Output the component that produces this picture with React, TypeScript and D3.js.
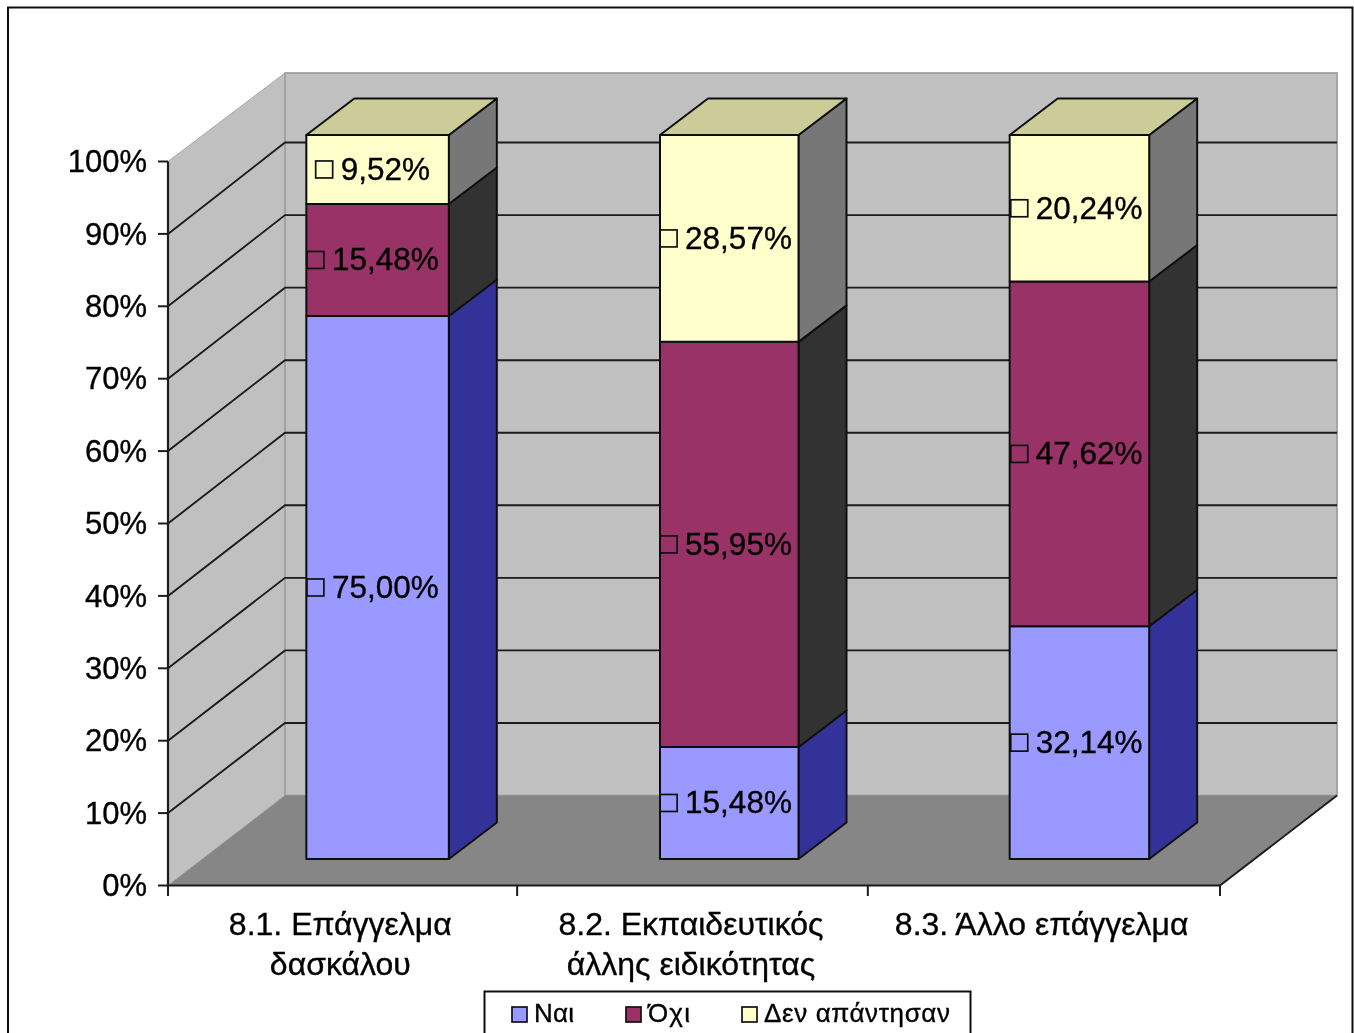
import React from "react";
import * as d3 from "d3";

const categories = [["8.1. Επάγγελμα", "δασκάλου"], ["8.2. Εκπαιδευτικός", "άλλης ειδικότητας"], ["8.3. Άλλο επάγγελμα"]];
const seriesNames = ["Ναι", "Όχι", "Δεν απάντησαν"];
const yes = [75.0, 15.48, 32.14];
const no = [15.48, 55.95, 47.62];
const noAnswer = [9.52, 28.57, 20.24];
const yTicks = [0, 10, 20, 30, 40, 50, 60, 70, 80, 90, 100];
const frontColors = ["#9999FF", "#993366", "#FFFFCC"];
const sideColors = ["#333399", "#333333", "#777777"];
const topColor = "#CCCC99";

const FONT = "'Liberation Sans', Arial, sans-serif";
const fmt = (v: number) => v.toFixed(2).replace(".", ",") + "%";
const measure = (s: string, size: number) => {
  const c = document.createElement("canvas").getContext("2d")!;
  c.font = `${size}px 'Liberation Sans'`;
  return c.measureText(s).width;
};

export default function App() {
  const y = d3.scaleLinear().domain([0, 100]).range([885.5, 161.5]);
  const backY = d3.scaleLinear().domain([0, 100]).range([795.5, 70]);
  const x = d3.scaleBand<number>().domain([0, 1, 2]).range([168, 1220]);
  const dx = 117;
  const wallTop = 73;
  const barDx = 35, barDy = -26.5;
  const sideDx = 48, sideDy = -36.5;
  const barW = 140;
  const leftNudge = [-1.5, 1.5, 0.5];
  const rightNudge = [1, 0, 0];
  const labelShift = [-5.5, -3, -3];
  const rows = categories.map((_, i) => ({ i, a: yes[i], b: no[i], c: noAnswer[i] }));
  const stacked = d3.stack<any>().keys(["a", "b", "c"])(rows);
  const poly = (p: number[][]) => p.map((q) => q.join(",")).join(" ");
  const grey = "#1a1a1a";
  const inkStroke = { stroke: "#000", strokeWidth: 0.35 };

  return (
    <svg width={1354} height={1033} style={{ position: "absolute", left: 0, top: 0, display: "block" }} fontFamily={FONT}>
      <defs>
        <filter id="soft" filterUnits="userSpaceOnUse" x="0" y="0" width="1354" height="1033">
          <feGaussianBlur stdDeviation="0.75" />
        </filter>
      </defs>
      <rect width={1354} height={1033} fill="#fff" />
      <g filter="url(#soft)">
        <rect x={8} y={7.5} width={1344.5} height={1040} fill="#fff" stroke="#111" strokeWidth={2} />
        {/* walls and floor */}
        <polygon points={poly([[168, y(100)], [168 + dx, wallTop], [168 + dx, y(0) - 90], [168, y(0)]])} fill="#C0C0C0" stroke="#A8A8A8" strokeWidth={1} />
        <rect x={168 + dx} y={wallTop} width={1220 - 168} height={backY(0) - wallTop} fill="#C0C0C0" stroke="#A0A0A0" strokeWidth={1.8} />
        <polygon points={poly([[168, y(0)], [1220, y(0)], [1220 + dx, backY(0)], [168 + dx, backY(0)]])} fill="#868686" />
        {/* gridlines */}
        {yTicks.filter((t) => t > 0 && t < 100).map((t) => (
          <path key={t} d={`M168,${y(t)}L${168 + dx},${backY(t)}H${1220 + dx}`} fill="none" stroke={grey} strokeWidth={1.9} />
        ))}
        <path d={`M1220,${y(0)}L${1220 + dx},${backY(0)}`} stroke={grey} strokeWidth={1.9} />
        {/* axes */}
        <path d={`M168,${y(100)}V${y(0)}H1220`} fill="none" stroke={grey} strokeWidth={2.2} />
        {yTicks.map((t) => (
          <g key={t}>
            <line x1={158} x2={168} y1={y(t)} y2={y(t)} stroke={grey} strokeWidth={2} />
            <text x={147} y={y(t) - 0.5} dy="0.36em" textAnchor="end" fontSize={31} fill="#000" {...inkStroke}>{t}%</text>
          </g>
        ))}
        {[0, 1, 2].map((i) => (
          <line key={i} x1={x(i)! - (i ? 1.5 : 0)} x2={x(i)! - (i ? 1.5 : 0)} y1={y(0)} y2={896} stroke={grey} strokeWidth={2} />
        ))}
        <line x1={1220} x2={1220} y1={y(0)} y2={896} stroke={grey} strokeWidth={2} />
        {/* bars */}
        {rows.map((r) => {
          const cx = x(r.i)! + x.bandwidth() / 2 + barDx - 0.5;
          const l = cx - barW / 2 + leftNudge[r.i], rgt = cx + barW / 2 + rightNudge[r.i];
          return (
            <g key={r.i} stroke="#111" strokeWidth={2} strokeLinejoin="round">
              {stacked.map((s, si) => {
                const y0 = y(s[r.i][0]) + barDy, y1 = y(s[r.i][1]) + barDy;
                return (
                  <g key={si}>
                    <polygon points={poly([[rgt, y0], [rgt + sideDx, y0 + sideDy], [rgt + sideDx, y1 + sideDy], [rgt, y1]])} fill={sideColors[si]} />
                    <rect x={l} y={y1} width={rgt - l} height={y0 - y1} fill={frontColors[si]} />
                  </g>
                );
              })}
              <polygon points={poly([[l, y(100) + barDy], [l + sideDx, y(100) + barDy + sideDy], [rgt + sideDx, y(100) + barDy + sideDy], [rgt, y(100) + barDy]])} fill={topColor} />
            </g>
          );
        })}
        {/* data labels */}
        {rows.map((r) => {
          const cx = x(r.i)! + x.bandwidth() / 2 + barDx + labelShift[r.i];
          return stacked.map((s, si) => {
            const v = s[r.i][1] - s[r.i][0];
            const label = fmt(v);
            const cy = y((s[r.i][0] + s[r.i][1]) / 2) + barDy;
            const tw = measure(label, 31.5);
            const start = cx - (tw + 25) / 2;
            return (
              <g key={`${r.i}-${si}`}>
                <rect x={start} y={cy - 8.5} width={17} height={17} fill="none" stroke="#111" strokeWidth={1.7} />
                <text x={start + 25} y={cy - 1} dy="0.36em" fontSize={31.5} fill="#000" {...inkStroke}>{label}</text>
              </g>
            );
          });
        })}
        {/* category labels */}
        {categories.map((lines, i) => (
          <text key={i} textAnchor="middle" fontSize={32} fill="#000" {...inkStroke}>
            {lines.map((t, j) => (
              <tspan key={j} x={x(i)! + x.bandwidth() / 2 - 3} y={935 + j * 40}>{t}</tspan>
            ))}
          </text>
        ))}
        {/* legend */}
        <rect x={484.5} y={991.5} width={486} height={60} fill="#fff" stroke="#111" strokeWidth={2} />
        {seriesNames.map((n, i) => {
          const kx = [512, 626, 742][i];
          const tl = [40, 42, 186][i];
          return (
            <g key={n}>
              <rect x={kx} y={1007} width={15} height={15} fill={frontColors[i]} stroke="#111" strokeWidth={1.7} />
              <text x={kx + 22} y={1022} fontSize={26} fill="#000" textLength={tl} lengthAdjust="spacing" {...inkStroke}>{n}</text>
            </g>
          );
        })}
      </g>
    </svg>
  );
}
